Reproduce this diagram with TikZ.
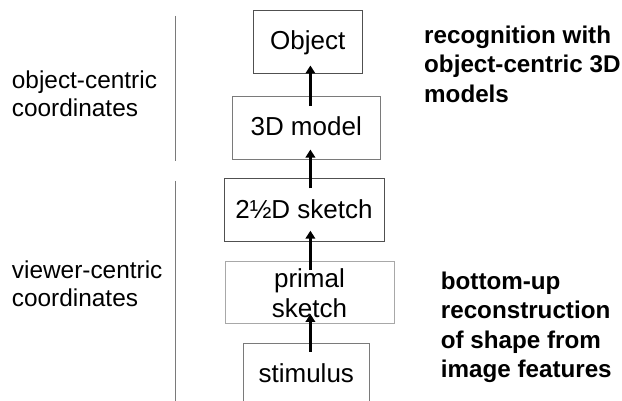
\documentclass[tikz,border=0pt]{standalone}
\usepackage{fontspec}
\setmainfont{Liberation Sans}
\usetikzlibrary{arrows.meta}
\definecolor{edgedark}{HTML}{505050}
\definecolor{edgemid}{HTML}{7A7A7A}
\definecolor{edgelight}{HTML}{A8A8A8}
\tikzset{
  stage/.style={draw=edgedark, line width=1pt, inner sep=0pt,
    font=\fontsize{26}{30}\selectfont, text height=18.5pt, text depth=2.5pt},
  stagetwo/.style={draw=edgelight, line width=1pt, inner sep=0pt, align=center,
    font=\fontsize{26}{30}\selectfont},
  sidenote/.style={inner sep=0pt, anchor=west, align=left,
    font=\fontsize{24.4}{28.3}\selectfont},
  claim/.style={inner sep=0pt, anchor=west, align=left,
    font=\bfseries\fontsize{24.2}{29.5}\selectfont},
  flow/.style={line width=3pt, -{Triangle[length=8pt,width=9.5pt]}},
  divider/.style={draw=edgemid, line width=1pt}
}
\begin{document}
\begin{tikzpicture}[x=1pt, y=-1pt]
\useasboundingbox (0,0) rectangle (622,401);
\fill[white] (0,0) rectangle (622,401);

% processing stages, bottom to top
\node[stage, minimum width=109pt, minimum height=63pt] (obj) at (307.8,42) {Object};
\node[stage, draw=edgemid, minimum width=147.7pt, minimum height=62.3pt] (model) at (306.2,127.9) {3D model};
\node[stage, minimum width=160pt, minimum height=62.7pt] (sketch) at (304,210.3) {2½D sketch};
\node[stagetwo, minimum width=169pt, minimum height=62.3pt] (primal) at (309.5,292.8) {primal\\sketch};
\node[stage, draw=edgemid, minimum width=126pt, minimum height=62.7pt] (stim) at (306.3,374.7) {stimulus};

% vertical axis shared by the arrows
\coordinate (axis) at (310.4,0);

\draw[flow] ([yshift=-9pt]stim.north -| axis) -- ([yshift=10.5pt]primal.south -| axis);
\draw[flow] ([yshift=-8.5pt]primal.north -| axis) -- ([yshift=11.5pt]sketch.south -| axis);
\draw[flow] ([yshift=-10pt]sketch.north -| axis) -- ([yshift=10pt]model.south -| axis);
\draw[flow] ([yshift=-10pt]model.north -| axis) -- ([yshift=8.5pt]obj.south -| axis);

% frame of reference brackets
\coordinate (objtop) at (175.6,16);
\coordinate (objbot) at (175.6,161);
\coordinate (viewtop) at (175.6,181);
\coordinate (viewbot) at (175.6,401);
\draw[divider] (objtop) -- (objbot);
\draw[divider] (viewtop) -- (viewbot);

\node[sidenote] (objframe) at (11.7,94) {object-centric\\coordinates};
\node[sidenote] (viewframe) at (11.7,284) {viewer-centric\\coordinates};

% what each level is for
\node[claim] (topdown) at (424,64) {recognition with\\object-centric 3D\\models};
\node[claim] (bottomup) at (440.7,327.5) {bottom-up\\reconstruction\\of shape from\\image features};
\end{tikzpicture}
\end{document}
